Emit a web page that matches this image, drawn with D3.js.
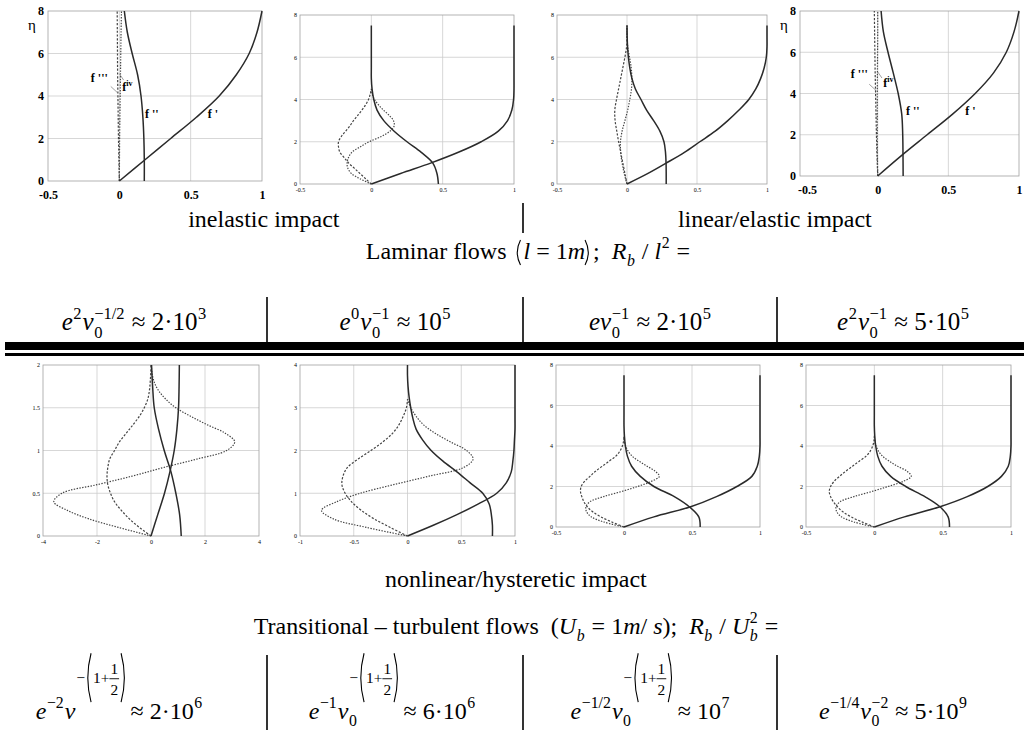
<!DOCTYPE html>
<html>
<head>
<meta charset="utf-8">
<script src="https://cdn.jsdelivr.net/npm/d3@7"></script>
<style>
  body { margin: 0; background: #fff; }
  svg { display: block; }
  text { font-family: "Liberation Serif", "Times New Roman", serif; fill: #000; white-space: pre; }
</style>
</head>
<body>
<script>
// ---- panel 1 : inelastic impact (laminar) ----
const p1Eta  = [0, 1, 2, 3, 4, 5, 6, 7, 8];
const p1Fp   = [0, 0.18, 0.36, 0.54, 0.7, 0.82, 0.91, 0.965, 1.0];
const p1Fpp  = [0.175, 0.175, 0.172, 0.165, 0.152, 0.128, 0.09, 0.056, 0.035];
const p1Fppp = [0, -0.003, -0.006, -0.008, -0.01, -0.012, -0.013, -0.014, -0.015];
const p1Fiv  = [0, 0.001, 0.002, 0.004, 0.006, 0.008, 0.01, 0.012, 0.015];

// ---- panel 2 ----
const p2Eta  = [0, 0.5, 1, 1.5, 2, 2.5, 3, 3.5, 4, 4.5, 5, 5.5, 6, 6.5, 7, 7.5];
const p2Fp   = [0, 0.205, 0.42, 0.61, 0.77, 0.89, 0.955, 0.985, 0.997, 1, 1, 1, 1, 1, 1, 1];
const p2Fpp  = [0.47, 0.46, 0.43, 0.35, 0.25, 0.16, 0.087, 0.04, 0.017, 0.005, 0, 0, 0, 0, 0, 0];
const p2EtaD = [0, 0.25, 0.5, 0.75, 1, 1.25, 1.5, 1.75, 2, 2.25, 2.5, 2.75, 3, 3.25, 3.5, 3.75, 4, 4.25, 4.5];
const p2Fppp = [0, -0.04, -0.08, -0.12, -0.16, -0.19, -0.22, -0.23, -0.23, -0.21, -0.18, -0.15, -0.125, -0.095, -0.066, -0.04, -0.02, -0.008, 0];
const p2Fiv  = [0, -0.08, -0.14, -0.165, -0.17, -0.16, -0.137, -0.08, -0.015, 0.07, 0.13, 0.16, 0.155, 0.125, 0.085, 0.05, 0.022, 0.007, 0];

// ---- panel 3 ----
const p3Eta  = [0, 0.5, 1, 1.5, 2, 2.5, 3, 3.5, 4, 4.5, 5, 5.5, 6, 6.5, 7, 7.5];
const p3Fp   = [0, 0.15, 0.283, 0.41, 0.52, 0.63, 0.72, 0.8, 0.87, 0.92, 0.955, 0.98, 0.995, 1, 1, 1];
const p3Fpp  = [0.28, 0.28, 0.279, 0.275, 0.264, 0.235, 0.19, 0.14, 0.1, 0.06, 0.035, 0.02, 0.01, 0.004, 0.001, 0];
const p3Fppp = [0, -0.015, -0.03, -0.045, -0.06, -0.073, -0.085, -0.087, -0.075, -0.06, -0.045, -0.03, -0.015, -0.003, 0, 0];
const p3Fiv  = [0, -0.02, -0.035, -0.045, -0.047, -0.035, -0.015, 0.005, 0.02, 0.032, 0.035, 0.03, 0.018, 0.005, 0, 0];

// ---- panel 4 : linear/elastic impact ----
const p4Eta  = [0, 1, 2, 3, 4, 5, 6, 7, 8];
const p4Fp   = [0, 0.17, 0.35, 0.53, 0.69, 0.82, 0.91, 0.965, 1.0];
const p4Fpp  = [0.18, 0.179, 0.177, 0.17, 0.145, 0.11, 0.073, 0.04, 0.024];
const p4Fppp = [0, -0.005, -0.009, -0.012, -0.015, -0.018, -0.02, -0.022, -0.024];
const p4Fiv  = [0, -0.002, -0.003, -0.003, -0.003, -0.002, -0.001, 0, 0];

// ---- panel 5 : nonlinear, first column ----
const p5EtaS = [0, 0.25, 0.5, 0.75, 1, 1.25, 1.5, 1.75, 2];
const p5Fp   = [0, 0.25, 0.5, 0.7, 0.86, 0.96, 1.02, 1.04, 1.05];
const p5Fpp  = [1.12, 1.06, 0.92, 0.74, 0.49, 0.28, 0.12, 0.06, 0.02];
const p5EtaD = [0, 0.1, 0.2, 0.3, 0.4, 0.5, 0.6, 0.7, 0.8, 0.9, 1, 1.1, 1.2, 1.3, 1.4, 1.5, 1.6, 1.7, 1.8, 1.9, 2];
const p5Fppp = [0, -0.43, -0.8, -1.1, -1.35, -1.5, -1.6, -1.63, -1.6, -1.53, -1.35, -1.17, -0.92, -0.67, -0.43, -0.25, -0.12, -0.06, -0.03, -0.01, 0];
const p5Fiv  = [0, -1.2, -2.3, -3.1, -3.6, -3.3, -2.0, -0.7, 0.45, 1.7, 2.8, 3.1, 2.76, 2.09, 1.47, 0.92, 0.55, 0.28, 0.12, 0.04, 0.01];

// ---- panel 6 ----
const p6EtaS = [0, 0.25, 0.5, 0.75, 1, 1.25, 1.5, 1.75, 2, 2.25, 2.5, 2.75, 3, 3.25, 3.5, 3.75, 4];
const p6Fp   = [0, 0.24, 0.46, 0.66, 0.83, 0.92, 0.965, 0.98, 0.99, 0.995, 1, 1, 1, 1, 1, 1, 1];
const p6Fpp  = [0.79, 0.79, 0.78, 0.76, 0.7, 0.58, 0.46, 0.33, 0.22, 0.14, 0.08, 0.05, 0.03, 0.015, 0.005, 0, 0];
const p6EtaD = [0, 0.2, 0.4, 0.6, 0.8, 1.0, 1.2, 1.4, 1.6, 1.8, 2.0, 2.2, 2.4, 2.6, 2.8, 3.0, 3.2];
const p6Fppp = [0, -0.16, -0.31, -0.43, -0.52, -0.58, -0.61, -0.6, -0.56, -0.46, -0.34, -0.23, -0.14, -0.08, -0.04, -0.01, 0];
const p6Fiv  = [0, -0.38, -0.69, -0.8, -0.66, -0.44, -0.13, 0.2, 0.52, 0.61, 0.55, 0.4, 0.26, 0.15, 0.08, 0.03, 0];

// ---- panel 7 ----
const p7EtaS = [0, 0.5, 1, 1.5, 2, 2.5, 3, 3.5, 4, 4.5, 5, 5.5, 6, 6.5, 7, 7.5];
const p7Fp   = [0, 0.22, 0.49, 0.68, 0.83, 0.94, 0.98, 0.995, 1, 1, 1, 1, 1, 1, 1, 1];
const p7Fpp  = [0.56, 0.55, 0.48, 0.37, 0.22, 0.12, 0.056, 0.025, 0.01, 0.003, 0, 0, 0, 0, 0, 0];
const p7EtaD = [0, 0.25, 0.5, 0.75, 1, 1.25, 1.5, 1.75, 2, 2.25, 2.5, 2.75, 3, 3.25, 3.5, 3.75, 4, 4.25, 4.5];
const p7Fppp = [0, -0.09, -0.17, -0.23, -0.27, -0.295, -0.31, -0.32, -0.315, -0.29, -0.25, -0.21, -0.16, -0.11, -0.06, -0.03, -0.012, -0.003, 0];
const p7Fiv  = [0, -0.15, -0.24, -0.275, -0.28, -0.25, -0.15, -0.02, 0.1, 0.2, 0.26, 0.23, 0.17, 0.11, 0.06, 0.03, 0.012, 0.003, 0];

// ---- panel 8 ----
const p8EtaS = [0, 0.5, 1, 1.5, 2, 2.5, 3, 3.5, 4, 4.5, 5, 5.5, 6, 6.5, 7, 7.5];
const p8Fp   = [0, 0.22, 0.48, 0.68, 0.83, 0.93, 0.98, 0.995, 1, 1, 1, 1, 1, 1, 1, 1];
const p8Fpp  = [0.55, 0.54, 0.48, 0.37, 0.23, 0.12, 0.056, 0.025, 0.01, 0.003, 0, 0, 0, 0, 0, 0];
const p8EtaD = [0, 0.25, 0.5, 0.75, 1, 1.25, 1.5, 1.75, 2, 2.25, 2.5, 2.75, 3, 3.25, 3.5, 3.75, 4, 4.25, 4.5];
const p8Fppp = [0, -0.09, -0.17, -0.23, -0.27, -0.3, -0.32, -0.33, -0.32, -0.295, -0.255, -0.21, -0.16, -0.11, -0.06, -0.03, -0.012, -0.003, 0];
const p8Fiv  = [0, -0.15, -0.24, -0.275, -0.28, -0.25, -0.15, -0.02, 0.1, 0.21, 0.27, 0.24, 0.17, 0.11, 0.06, 0.03, 0.012, 0.003, 0];

// tick labels
const xTicksUnit = [-0.5, 0, 0.5, 1];
const yTicksEta8 = [0, 2, 4, 6, 8];
const xTicks5 = [-4, -2, 0, 2, 4];
const yTicks5 = [0, 0.5, 1, 1.5, 2];
const xTicks6 = [-1, -0.5, 0, 0.5, 1];
const yTicks6 = [0, 1, 2, 3, 4];

// curve labels for the two annotated panels: [text, sup, x, eta]
const curveLabels1 = [["f '''", "", -0.2, 4.65], ["f", "iv", 0.02, 4.25], ["f ''", "", 0.18, 2.95], ["f '", "", 0.62, 2.95]];
const curveLabels4 = [["f '''", "", -0.19, 4.75], ["f", "iv", 0.04, 4.3], ["f ''", "", 0.2, 2.95], ["f '", "", 0.62, 2.95]];

const svg = d3.select("body").append("svg").attr("width", 1029).attr("height", 730);

const SOLID = { stroke: "#2a2a2a", width: 1.5, dash: null };
const DASH3 = { stroke: "#444", width: 1.2, dash: "2.2,1.6" };
const DASH4 = { stroke: "#444", width: 1.2, dash: "1.4,1.4" };

const panels = [
  { x0: 48, x1: 262, y0: 11, y1: 181, xd: [-0.5, 1], yd: [0, 8], xt: xTicksUnit, yt: yTicksEta8, gx: [0, 0.5], gy: [2, 4, 6], bold: true,
    series: [[p1Eta, p1Fppp, DASH3], [p1Eta, p1Fiv, DASH4], [p1Eta, p1Fpp, SOLID], [p1Eta, p1Fp, SOLID]], labels: curveLabels1 },
  { x0: 300, x1: 514, y0: 15, y1: 184, xd: [-0.5, 1], yd: [0, 8], xt: xTicksUnit, yt: yTicksEta8, gx: [0, 0.5], gy: [2, 4, 6],
    series: [[p2EtaD, p2Fppp, DASH3], [p2EtaD, p2Fiv, DASH4], [p2Eta, p2Fpp, SOLID], [p2Eta, p2Fp, SOLID]] },
  { x0: 557, x1: 767, y0: 15, y1: 184, xd: [-0.5, 1], yd: [0, 8], xt: xTicksUnit, yt: yTicksEta8, gx: [0, 0.5], gy: [2, 4, 6],
    series: [[p3Eta, p3Fppp, DASH3], [p3Eta, p3Fiv, DASH4], [p3Eta, p3Fpp, SOLID], [p3Eta, p3Fp, SOLID]] },
  { x0: 800, x1: 1019, y0: 11, y1: 176, xd: [-0.55, 1], yd: [0, 8], xt: xTicksUnit, yt: yTicksEta8, gx: [0, 0.5], gy: [2, 4, 6], bold: true,
    series: [[p4Eta, p4Fppp, DASH3], [p4Eta, p4Fiv, DASH4], [p4Eta, p4Fpp, SOLID], [p4Eta, p4Fp, SOLID]], labels: curveLabels4 },
  { x0: 43, x1: 259, y0: 365, y1: 536, xd: [-4, 4], yd: [0, 2], xt: xTicks5, yt: yTicks5, gx: [-2, 0, 2], gy: [0.5, 1, 1.5],
    series: [[p5EtaD, p5Fppp, DASH3], [p5EtaD, p5Fiv, DASH4], [p5EtaS, p5Fpp, SOLID], [p5EtaS, p5Fp, SOLID]] },
  { x0: 300, x1: 515, y0: 365, y1: 536, xd: [-1, 1], yd: [0, 4], xt: xTicks6, yt: yTicks6, gx: [-0.5, 0, 0.5], gy: [1, 2, 3],
    series: [[p6EtaD, p6Fppp, DASH3], [p6EtaD, p6Fiv, DASH4], [p6EtaS, p6Fpp, SOLID], [p6EtaS, p6Fp, SOLID]] },
  { x0: 556, x1: 760, y0: 365, y1: 527, xd: [-0.5, 1], yd: [0, 8], xt: xTicksUnit, yt: yTicksEta8, gx: [0, 0.5], gy: [2, 4, 6],
    series: [[p7EtaD, p7Fppp, DASH3], [p7EtaD, p7Fiv, DASH4], [p7EtaS, p7Fpp, SOLID], [p7EtaS, p7Fp, SOLID]] },
  { x0: 806, x1: 1011, y0: 365, y1: 527, xd: [-0.5, 1], yd: [0, 8], xt: xTicksUnit, yt: yTicksEta8, gx: [0, 0.5], gy: [2, 4, 6],
    series: [[p8EtaD, p8Fppp, DASH3], [p8EtaD, p8Fiv, DASH4], [p8EtaS, p8Fpp, SOLID], [p8EtaS, p8Fp, SOLID]] }
];

function drawPanel(p) {
  const x = d3.scaleLinear().domain(p.xd).range([p.x0, p.x1]);
  const y = d3.scaleLinear().domain(p.yd).range([p.y1, p.y0]);
  const g = svg.append("g");

  g.selectAll("line.gx").data(p.gx).join("line").attr("class", "gx")
    .attr("x1", d => x(d)).attr("x2", d => x(d)).attr("y1", p.y0).attr("y2", p.y1)
    .attr("stroke", "#cdcdcd").attr("stroke-width", 0.8);
  g.selectAll("line.gy").data(p.gy).join("line").attr("class", "gy")
    .attr("y1", d => y(d)).attr("y2", d => y(d)).attr("x1", p.x0).attr("x2", p.x1)
    .attr("stroke", "#cdcdcd").attr("stroke-width", 0.8);
  g.append("rect").attr("x", p.x0).attr("y", p.y0).attr("width", p.x1 - p.x0).attr("height", p.y1 - p.y0)
    .attr("fill", "none").attr("stroke", "#a0a0a0").attr("stroke-width", 0.8);

  const fs = p.bold ? 12 : 6;
  const xa = g.append("g").attr("transform", `translate(0,${p.y1})`)
    .call(d3.axisBottom(x).tickValues(p.xt).tickSize(0).tickPadding(p.bold ? 9 : 4).tickFormat(d => String(d)));
  const ya = g.append("g").attr("transform", `translate(${p.x0},0)`)
    .call(d3.axisLeft(y).tickValues(p.yt).tickSize(0).tickPadding(p.bold ? 4 : 3).tickFormat(d => String(d)));
  [xa, ya].forEach(a => {
    a.select(".domain").remove();
    a.selectAll("text").attr("font-family", "Liberation Serif").attr("font-size", fs)
      .attr("font-weight", p.bold ? "bold" : null).attr("fill", p.bold ? "#222" : "#555");
  });

  const line = d3.line().x(d => x(d[1])).y(d => y(d[0])).curve(d3.curveCatmullRom.alpha(0.5));
  p.series.forEach(([eta, v, st]) => {
    g.append("path").datum(d3.zip(eta, v)).attr("d", line)
      .attr("fill", "none").attr("stroke", st.stroke).attr("stroke-width", st.width)
      .attr("stroke-dasharray", st.dash);
  });

  if (p.labels) {
    g.append("text").attr("x", p.x0 - 16).attr("y", y(7.1)).attr("font-size", 15).attr("text-anchor", "middle").text("η");
    p.labels.forEach(([t, sup, vx, ve]) => {
      const tx = g.append("text").attr("x", x(vx)).attr("y", y(ve)).attr("font-size", 12).attr("font-weight", "bold").text(t);
      if (sup) tx.append("tspan").attr("font-size", 8).attr("dy", -5).text(sup);
    });
    // small leader strokes from the f''' and f^iv labels to their curves
    g.append("line").attr("x1", x(-0.06)).attr("y1", y(4.45)).attr("x2", x(-0.012)).attr("y2", y(4.15))
      .attr("stroke", "#777").attr("stroke-width", 0.7);
    g.append("line").attr("x1", x(0.03)).attr("y1", y(4.75)).attr("x2", x(0.0)).attr("y2", y(5.05))
      .attr("stroke", "#777").attr("stroke-width", 0.7);
  }
}
panels.forEach(drawPanel);

// ---------- text with simple math layout ----------
// tokens are laid out left to right, then the whole group is centred on cx
function drawMath(cx, by, tokens, fs) {
  const outer = svg.append("g");
  const g = outer.append("g");
  let x = 0;
  const put = (s, px, py, size, it) => g.append("text").attr("xml:space", "preserve")
    .attr("x", px).attr("y", py).attr("font-size", size)
    .attr("font-style", it ? "italic" : null).text(s).node().getComputedTextLength();
  const paren = (ch, px, top, bot, w) => {
    const mid = (top + bot) / 2;
    const d = ch === "(" ? `M${px + w},${top} Q${px - w * 0.3},${mid} ${px + w},${bot}`
                         : `M${px},${top} Q${px + w * 1.3},${mid} ${px},${bot}`;
    g.append("path").attr("d", d).attr("fill", "none").attr("stroke", "#000").attr("stroke-width", 1.1);
  };
  tokens.forEach(tk => {
    if (tk.gap) { x += tk.gap; return; }
    if (tk.paren) { paren(tk.paren, x, by - tk.up, by + tk.down, 5); x += 8; return; }
    const w = put(tk.t, x, by, tk.size || fs, tk.it);
    let ex = 0;
    if (tk.sub) ex = Math.max(ex, put(tk.sub, x + w + 0.5, by + fs * 0.3, fs * 0.66, tk.subIt));
    if (tk.sup) ex = Math.max(ex, put(tk.sup, x + w + 0.5, by - fs * 0.46, fs * 0.66, tk.supIt));
    if (tk.bigexp) {
      const yc = by - fs * 1.72, s = fs * 0.64, hh = fs * 1.02;
      let ex0 = x + w + 1;
      ex0 += put("−", ex0, yc + s * 0.35, s) + 1;
      paren("(", ex0, yc - hh, yc + hh, 5); ex0 += 7;
      ex0 += put("1+", ex0, yc + s * 0.35, s);
      const fw = put("1", ex0 + 1, yc - s * 0.25, s);
      put("2", ex0 + 1, yc + s * 1.15, s);
      g.append("line").attr("x1", ex0).attr("x2", ex0 + fw + 2).attr("y1", yc + 1).attr("y2", yc + 1)
        .attr("stroke", "#000").attr("stroke-width", 0.9);
      ex0 += fw + 4;
      paren(")", ex0, yc - hh, yc + hh, 5); ex0 += 8;
      ex = Math.max(ex, ex0 - (x + w));
    }
    x += w + (ex ? ex + 1.5 : 0);
  });
  const bb = g.node().getBBox();
  outer.attr("transform", `translate(${cx - (bb.x + bb.width / 2)},0)`);
  return outer;
}

const impactLabels = ["inelastic impact", "linear/elastic impact", "nonlinear/hysteretic impact"];
const FS = 24;
drawMath(264, 227, [{ t: impactLabels[0] }], FS);
drawMath(775, 227, [{ t: impactLabels[1] }], FS);
drawMath(516, 587, [{ t: impactLabels[2] }], FS);

// Laminar flows (l = 1m); R_b / l^2 =
drawMath(528, 259, [
  { t: "Laminar flows " }, { gap: 3 }, { paren: "(", up: 19, down: 6 },
  { t: "l", it: true }, { t: " = 1" }, { t: "m", it: true },
  { paren: ")", up: 19, down: 6 }, { t: ";  " }, { t: "R", it: true, sub: "b", subIt: true },
  { t: " / " }, { t: "l", it: true, sup: "2" }, { t: " =" }
], FS);

// Transitional – turbulent flows (U_b = 1m/s); R_b / U_b^2 =
drawMath(516, 634, [
  { t: "Transitional – turbulent flows  (" }, { t: "U", it: true, sub: "b", subIt: true },
  { t: " = 1" }, { t: "m", it: true }, { t: "/ " }, { t: "s", it: true }, { t: ");  " },
  { t: "R", it: true, sub: "b", subIt: true }, { t: " / " },
  { t: "U", it: true, sub: "b", subIt: true, sup: "2" }, { t: " =" }
], FS);

// separators
const seps = [
  [523, 203, 233], [267, 297, 342], [523, 297, 342], [777, 297, 342],
  [267, 655, 730], [523, 655, 730], [777, 655, 730]
];
svg.selectAll("line.sep").data(seps).join("line").attr("class", "sep")
  .attr("x1", d => d[0]).attr("x2", d => d[0]).attr("y1", d => d[1]).attr("y2", d => d[2])
  .attr("stroke", "#000").attr("stroke-width", 1.6);
svg.append("rect").attr("x", 5).attr("y", 342).attr("width", 1019).attr("height", 8).attr("fill", "#000");
svg.append("rect").attr("x", 5).attr("y", 353).attr("width", 1019).attr("height", 3).attr("fill", "#000");

// laminar row formulas
const nu = "ν";
drawMath(134, 330, [{ t: "e", it: true, sup: "2" }, { t: nu, it: true, sub: "0", sup: "−1/2" }, { t: " ≈ 2·10", sup: "3" }], 25);
drawMath(395, 330, [{ t: "e", it: true, sup: "0" }, { t: nu, it: true, sub: "0", sup: "−1" }, { t: " ≈ 10", sup: "5" }], 25);
drawMath(650, 330, [{ t: "e", it: true }, { t: nu, it: true, sub: "0", sup: "−1" }, { t: " ≈ 2·10", sup: "5" }], 25);
drawMath(903, 330, [{ t: "e", it: true, sup: "2" }, { t: nu, it: true, sub: "0", sup: "−1" }, { t: " ≈ 5·10", sup: "5" }], 25);

// turbulent row formulas
drawMath(119, 719, [{ t: "e", it: true, sup: "−2" }, { t: nu, it: true, bigexp: true }, { t: "≈ 2·10", sup: "6" }], 24);
drawMath(392, 719, [{ t: "e", it: true, sup: "−1" }, { t: nu, it: true, sub: "0", bigexp: true }, { t: "≈ 6·10", sup: "6" }], 24);
drawMath(650, 719, [{ t: "e", it: true, sup: "−1/2" }, { t: nu, it: true, sub: "0", bigexp: true }, { t: "≈ 10", sup: "7" }], 24);
drawMath(893, 719, [{ t: "e", it: true, sup: "−1/4" }, { t: nu, it: true, sub: "0", sup: "−2" }, { t: " ≈ 5·10", sup: "9" }], 24);
</script>
</body>
</html>
